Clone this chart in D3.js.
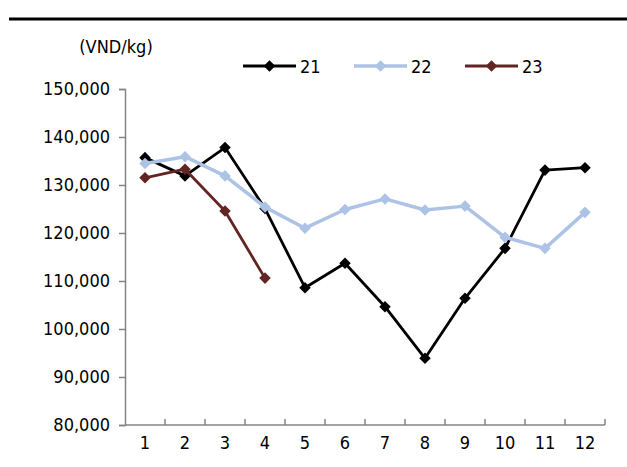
<!DOCTYPE html>
<html>
<head>
<meta charset="utf-8">
<script src="https://cdn.jsdelivr.net/npm/d3@7"></script>
<style>
  body { margin: 0; background: #fff; }
  svg text { font-family: "DejaVu Sans Condensed", "DejaVu Sans", sans-serif; }
</style>
</head>
<body>
<div id="chart"></div>
<script>
var months = ["1", "2", "3", "4", "5", "6", "7", "8", "9", "10", "11", "12"];
var seriesNames = ["21", "22", "23"];
var values21 = [135700, 131900, 137800, 125100, 108600, 113700, 104650, 93900, 106400, 116800, 133100, 133600];
var values22 = [134500, 135900, 131900, 125400, 121000, 124900, 127100, 124800, 125600, 119100, 116800, 124300];
var values23 = [131500, 133300, 124600, 110600];
var yTicks = [80000, 90000, 100000, 110000, 120000, 130000, 140000, 150000];
var colors = ["#000000", "#adc3e6", "#632523"];

var allSeries = [values21, values22, values23];

var width = 627, height = 467;
var margin = { top: 89, right: 22, bottom: 42, left: 125 };

var svg = d3.select("#chart").append("svg")
    .attr("width", width)
    .attr("height", height);

// title sits above the window, only its descenders peek in
svg.append("text")
    .attr("x", 330)
    .attr("y", -8)
    .attr("text-anchor", "middle")
    .style("font-size", "24px")
    .style("font-weight", "bold")
    .style("fill", "black")
    .text("Vietnam hog price by month, year (VND/kg)");

svg.append("line")
    .attr("x1", 9).attr("x2", width)
    .attr("y1", 19).attr("y2", 19)
    .attr("stroke", "black")
    .attr("stroke-width", 3);

var x = d3.scaleBand()
    .domain(months)
    .range([margin.left, width - margin.right]);

var y = d3.scaleLinear()
    .domain([80000, 150000])
    .range([height - margin.bottom, margin.top]);

var bw = x.bandwidth();
var axisColor = "#858585";

// y axis
var yAxis = d3.axisLeft(y)
    .tickValues(yTicks)
    .tickFormat(d3.format(","))
    .tickSize(6)
    .tickPadding(9);

var gy = svg.append("g")
    .attr("transform", "translate(" + margin.left + ",0)")
    .call(yAxis);
gy.select(".domain").attr("stroke", axisColor).attr("stroke-width", 1.5);
gy.selectAll(".tick line").attr("stroke", axisColor).attr("stroke-width", 1.5);
gy.selectAll(".tick text")
    .style("font-size", "18px")
    .style("fill", "black");

// x axis: ticks at band edges, pointing up
var edges = months.map(function(m) { return x(m); }).concat([x.range()[1]]);
var gx = svg.append("g");
gx.append("line")
    .attr("x1", x.range()[0]).attr("x2", x.range()[1])
    .attr("y1", y(80000)).attr("y2", y(80000))
    .attr("stroke", axisColor).attr("stroke-width", 1.5);
gx.selectAll(".xt")
    .data(edges.slice(1))
    .enter().append("line")
    .attr("x1", function(d) { return d; })
    .attr("x2", function(d) { return d; })
    .attr("y1", y(80000))
    .attr("y2", y(80000) - 6)
    .attr("stroke", axisColor).attr("stroke-width", 1.5);
gx.selectAll(".xl")
    .data(months)
    .enter().append("text")
    .attr("x", function(d) { return x(d) + bw / 2; })
    .attr("y", y(80000) + 24)
    .attr("text-anchor", "middle")
    .style("font-size", "18px")
    .style("fill", "black")
    .text(function(d) { return d; });

// unit label
svg.append("text")
    .attr("x", 116)
    .attr("y", 53)
    .attr("text-anchor", "middle")
    .style("font-size", "18px")
    .style("fill", "black")
    .text("(VND/kg)");

var line = d3.line()
    .x(function(d, i) { return x(months[i]) + bw / 2; })
    .y(function(d) { return y(d); });

var diamond = d3.symbol().type(d3.symbolDiamond2).size(85);

allSeries.forEach(function(vals, s) {
    var g = svg.append("g");
    g.append("path")
        .datum(vals)
        .attr("d", line)
        .attr("fill", "none")
        .attr("stroke", colors[s])
        .attr("stroke-width", s === 1 ? 3.5 : 2.8)
        .attr("stroke-linejoin", "round");
    g.selectAll("path.pt")
        .data(vals)
        .enter().append("path")
        .attr("class", "pt")
        .attr("d", diamond)
        .attr("transform", function(d, i) {
            return "translate(" + (x(months[i]) + bw / 2) + "," + y(d) + ")";
        })
        .attr("fill", colors[s]);
});

// legend
var legendX = [243, 354, 465];
var legendY = 66;
seriesNames.forEach(function(name, s) {
    var g = svg.append("g");
    g.append("line")
        .attr("x1", legendX[s]).attr("x2", legendX[s] + 53)
        .attr("y1", legendY).attr("y2", legendY)
        .attr("stroke", colors[s])
        .attr("stroke-width", s === 1 ? 3.5 : 2.8);
    g.append("path")
        .attr("d", diamond)
        .attr("transform", "translate(" + (legendX[s] + 26.5) + "," + legendY + ")")
        .attr("fill", colors[s]);
    g.append("text")
        .attr("x", legendX[s] + 57)
        .attr("y", legendY + 7)
        .style("font-size", "18px")
        .style("fill", "black")
        .text(name);
});
</script>
</body>
</html>
